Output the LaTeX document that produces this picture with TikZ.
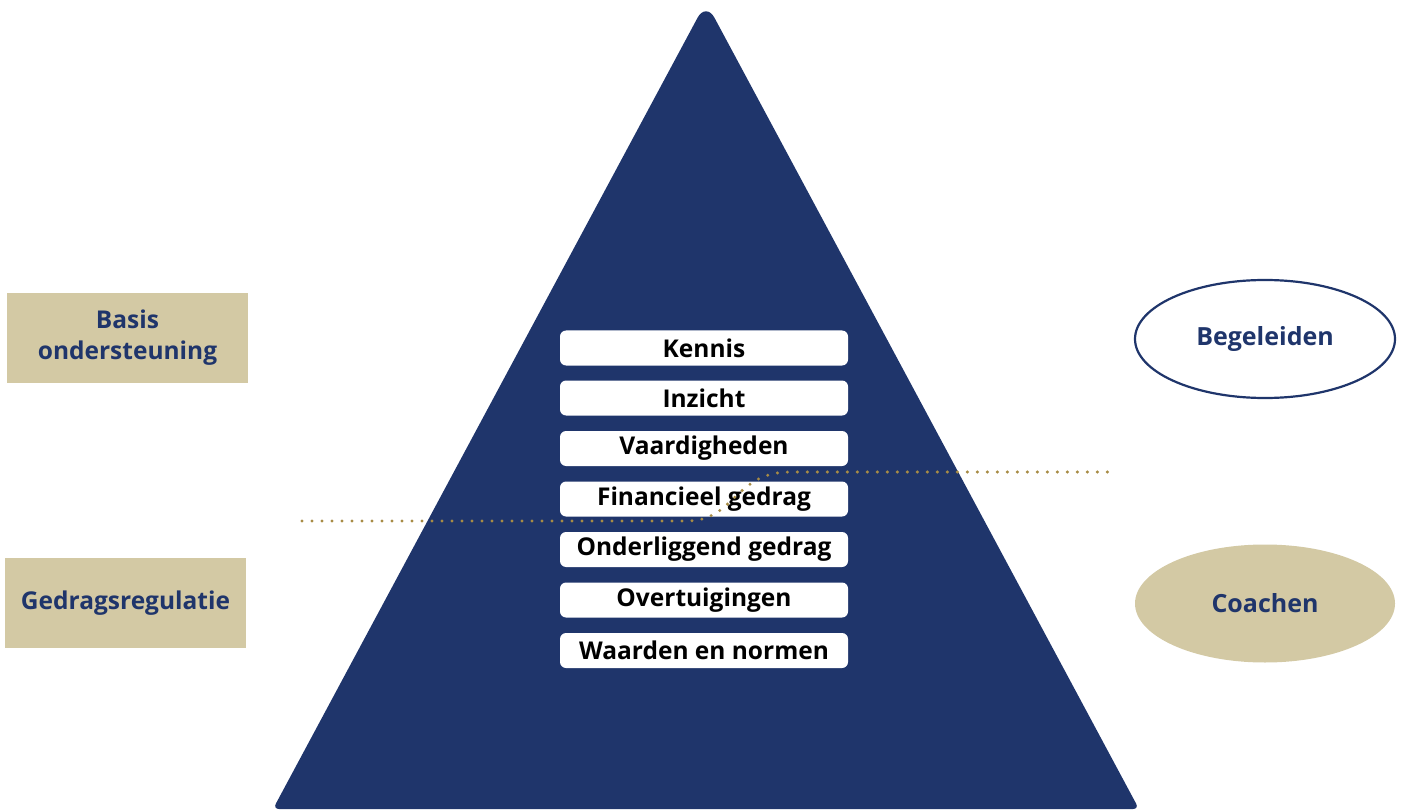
\documentclass[tikz,border=0pt]{standalone}
\usepackage{fontspec}
\setmainfont{Open Sans}
\usetikzlibrary{shapes.geometric}
\definecolor{navy}{HTML}{1F356B}
\definecolor{sand}{HTML}{D3C9A4}
\definecolor{gold}{HTML}{A88C45}
\begin{document}
\begin{tikzpicture}[x=1pt,y=-1pt,
  layer/.style={fill=white, rounded corners=6pt, minimum width=288pt, minimum height=35pt,
    inner sep=0pt, font=\fontsize{24.5}{28}\selectfont\bfseries, text=black},
  sidebox/.style={fill=sand, minimum width=241pt, minimum height=90pt, inner sep=0pt,
    align=center, font=\fontsize{24.5}{31}\selectfont\bfseries, text=navy},
  oval/.style={ellipse, minimum width=260pt, minimum height=118pt, inner sep=0pt,
    font=\fontsize{25}{28}\selectfont\bfseries, text=navy}]
  \useasboundingbox (0,0) rectangle (1403,810);
  % pyramid
  \fill[navy] (706,809) [rounded corners=6] -- (1139,809) [rounded corners=18] -- (706,2)
    [rounded corners=6] -- (273,809) -- cycle;
  % layers of the pyramid
  \node[layer] (kennis) at (704,348) {Kennis};
  \node[layer] (inzicht) at (704,398) {Inzicht};
  \node[layer] (vaard) at (704,448.5) {Vaardigheden};
  \node[layer] (finan) at (704,499) {Financieel gedrag};
  \node[layer] (onder) at (704,549.5) {Onderliggend gedrag};
  \node[layer] (overt) at (704,600) {Overtuigingen};
  \node[layer] (waard) at (704,650.5) {Waarden en normen};
  % side labels
  \node[sidebox] (basis) at (127.5,338) {Basis\\ondersteuning};
  \node[sidebox] (regul) at (125.5,603) {Gedragsregulatie};
  \node[oval, draw=navy, line width=2.2pt, fill=white] (begel) at (1265,339) {Begeleiden};
  \node[oval, fill=sand] (coach) at (1265,603.5) {Coachen};
  % dividing line
  \coordinate (dl) at (302,521);
  \coordinate (dr) at (1108,472);
  \draw[gold, line width=3.3pt, line cap=round, dash pattern=on 0pt off 10pt]
    (dl) -- (688,521) .. controls (735,520) and (735,472) .. (790,472) -- (dr);
\end{tikzpicture}
\end{document}
